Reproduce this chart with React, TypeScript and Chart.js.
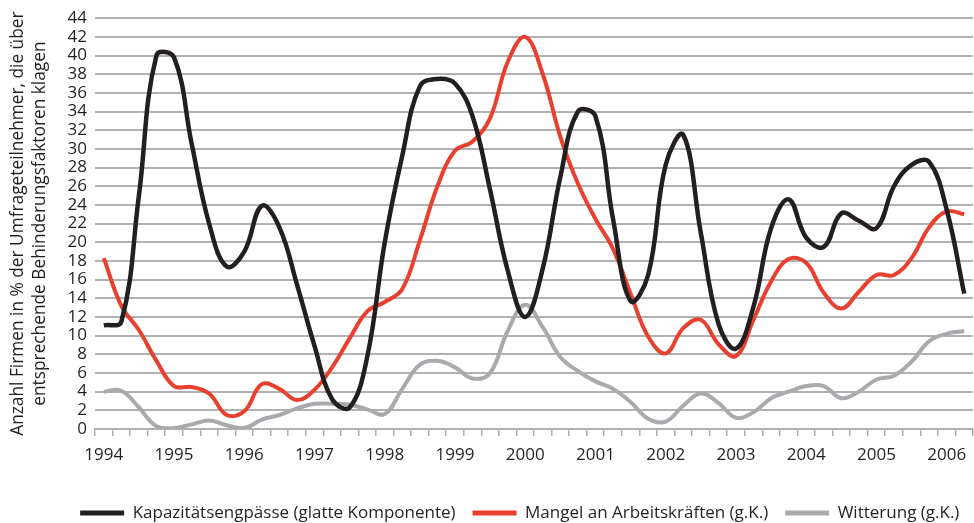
import React, { useEffect, useRef } from 'react';
import { Chart, registerables } from 'chart.js';

Chart.register(...registerables);

const years = [1994, 1995, 1996, 1997, 1998, 1999, 2000, 2001, 2002, 2003, 2004, 2005, 2006];
const quarters = ['Q1', 'Q2', 'Q3', 'Q4'];

const kapazitaet = [
  11.1, 11.5, 25, 40, 39.8, 30.6, 22, 17.4, 19, 23.9, 21.6, 15.5,
  8.9, 3.2, 2.3, 7.7, 20, 29.3, 36.7, 37.5, 37, 33.5, 25.6, 17,
  12, 17.2, 27, 34, 33.5, 22.5, 13.7, 16.5, 28.3, 31.5, 21, 11.3,
  8.6, 13.1, 21.5, 24.6, 20.5, 19.5, 23.1, 22.3, 21.5, 26, 28.3, 28.6,
  23.5, 14.5,
];

const arbeitskraefte = [
  18.3, 13.2, 10.6, 7.3, 4.6, 4.5, 3.8, 1.5, 1.9, 4.8, 4.3, 3.1,
  4.2, 6.6, 9.7, 12.6, 13.6, 15, 20.2, 26, 29.8, 30.8, 33.3, 39.3,
  42, 38, 31.3, 26.3, 22.5, 19.3, 14.5, 9.9, 8.1, 10.8, 11.7, 9.1,
  7.8, 11.7, 15.8, 18.2, 17.8, 14.6, 12.9, 14.7, 16.5, 16.5, 18.3, 21.6,
  23.3, 23,
];

const witterung = [
  4, 4.1, 2.3, 0.3, 0.1, 0.5, 0.9, 0.4, 0.1, 1, 1.5, 2.2,
  2.7, 2.7, 2.6, 2.1, 1.6, 4.3, 6.9, 7.3, 6.6, 5.4, 6, 10.5,
  13.3, 10.9, 7.7, 6.2, 5.1, 4.3, 2.9, 1.1, 0.8, 2.5, 3.8, 2.8,
  1.2, 1.8, 3.3, 4, 4.6, 4.6, 3.3, 4, 5.3, 5.7, 7.2, 9.4,
  10.2, 10.5,
];

const categories: string[] = [];
years.forEach((y) =>
  quarters.forEach((q) => {
    if (categories.length < kapazitaet.length) categories.push(`${y} ${q}`);
  })
);

const seriesNames = [
  'Kapazitätsengpässe (glatte Komponente)',
  'Mangel an Arbeitskräften (g.K.)',
  'Witterung (g.K.)',
];
const seriesColors = ['#231f20', '#e8402f', '#a9aaad'];
const yTitle = [
  'Anzahl Firmen in % der Umfrageteilnehmer, die über',
  'entsprechende Behinderungsfaktoren klagen',
];

const FONT = '"Open Sans", "DejaVu Sans", sans-serif';
const TEXT = '#231f20';
const GRID = '#b1b1b1';

// Centre the one-row legend on the span used in the original figure.
const legendSpan = {
  id: 'legendSpan',
  afterLayout(chart: any) {
    const l = chart.legend;
    if (l) {
      l.left = 39.5;
      l.right = 1000;
    }
  },
};

export default function App() {
  const ref = useRef<HTMLCanvasElement | null>(null);

  useEffect(() => {
    if (!ref.current) return;
    const data = [kapazitaet, arbeitskraefte, witterung];
    const chart = new Chart(ref.current, {
      type: 'line',
      data: {
        labels: categories,
        datasets: data.map((d, i) => ({
          label: seriesNames[i],
          data: d,
          borderColor: seriesColors[i],
          backgroundColor: seriesColors[i],
          borderWidth: i === 0 ? 4.5 : 4,
          pointRadius: 0,
          tension: 0.4,
          fill: false,
        })),
      },
      plugins: [legendSpan],
      options: {
        animation: false,
        responsive: true,
        maintainAspectRatio: false,
        layout: { padding: { top: 12, right: 1, left: 0, bottom: -8.5 } },
        plugins: {
          tooltip: { enabled: false },
          legend: {
            position: 'bottom',
            fullSize: true,
            labels: {
              font: { family: FONT, size: 17 },
              color: TEXT,
              boxWidth: 44,
              boxHeight: 5,
              padding: 17,
              generateLabels: (c: any) =>
                Chart.defaults.plugins.legend.labels
                  .generateLabels(c)
                  .map((l: any) => ({ ...l, lineWidth: 0, fillStyle: l.strokeStyle })),
            },
          },
        },
        scales: {
          x: {
            type: 'category',
            offset: true,
            grid: {
              offset: true,
              drawOnChartArea: false,
              drawTicks: true,
              tickLength: 7,
              color: GRID,
              lineWidth: 1.5,
            },
            border: { display: true, color: GRID, width: 2 },
            ticks: {
              autoSkip: false,
              maxRotation: 0,
              padding: 9,
              font: { family: FONT, size: 17 },
              color: TEXT,
              callback: (_v: any, i: number) =>
                i % 4 === 0 ? String(categories[i]).slice(0, 4) : '',
            },
            afterFit: (s: any) => {
              s.height = 58.5;
            },
          },
          y: {
            min: 0,
            max: 44,
            grid: { color: GRID, lineWidth: 2, drawTicks: false },
            border: { display: false },
            ticks: {
              stepSize: 2,
              autoSkip: false,
              padding: 8,
              font: { family: FONT, size: 17 },
              color: TEXT,
            },
            title: {
              display: true,
              text: yTitle,
              font: { family: FONT, size: 17.3, lineHeight: 1.27 },
              color: TEXT,
              padding: { top: 7, bottom: 0 },
            },
            afterFit: (s: any) => {
              s.width = 95;
            },
          },
        },
      },
    });
    return () => chart.destroy();
  }, []);

  return (
    <div style={{ position: 'fixed', left: 0, top: 0, width: 974, height: 523, background: '#fff' }}>
      <canvas ref={ref} />
    </div>
  );
}
